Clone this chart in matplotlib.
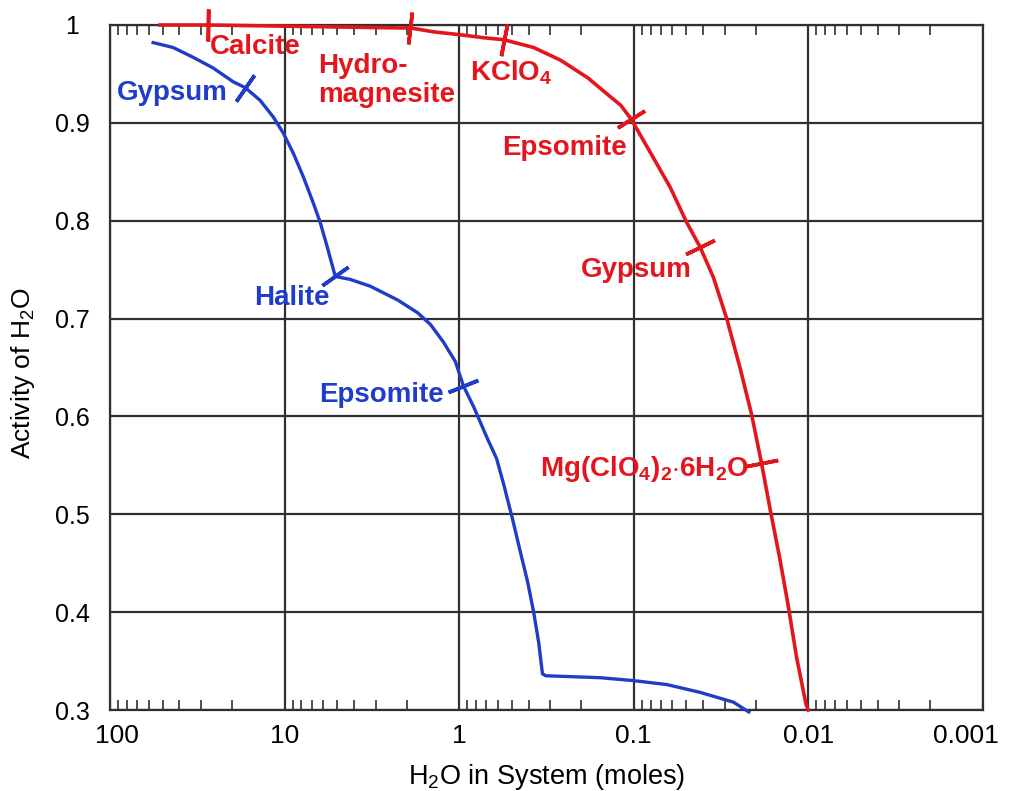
import numpy as np
import matplotlib
matplotlib.use('Agg')
import matplotlib.pyplot as plt
import matplotlib.transforms as mtransforms
from matplotlib.ticker import LogLocator, NullFormatter, FixedLocator

plt.rcParams['font.family'] = ['Liberation Sans', 'DejaVu Sans']
plt.rcParams['mathtext.fontset'] = 'custom'
plt.rcParams['mathtext.rm'] = 'Liberation Sans'
plt.rcParams['mathtext.bf'] = 'Liberation Sans:bold'

# blue path (H2O moles, activity)
blue_x = [56.6, 43.5, 33.4, 25.6, 19.7, 16.8, 13.8, 11.6, 10.2, 8.91, 7.81, 6.84, 6.24, 5.69,
          5.12, 4.20, 3.22, 2.25, 1.73, 1.46, 1.23, 1.05, 0.944, 0.826, 0.687, 0.610, 0.556,
          0.494, 0.445, 0.405, 0.374, 0.350, 0.333, 0.319, 0.155, 0.100, 0.0645, 0.0416,
          0.0268, 0.0219]
blue_y = [0.982, 0.977, 0.967, 0.956, 0.942, 0.936, 0.923, 0.906, 0.890, 0.869, 0.845, 0.818,
          0.798, 0.773, 0.743, 0.740, 0.733, 0.719, 0.706, 0.694, 0.676, 0.656, 0.631, 0.610,
          0.577, 0.557, 0.531, 0.495, 0.461, 0.431, 0.400, 0.369, 0.337, 0.335, 0.333, 0.330,
          0.326, 0.318, 0.308, 0.298]

# red path
red_x = [51.7, 27.4, 2.17, 1.90, 1.40, 0.98, 0.724, 0.556, 0.374, 0.262, 0.183, 0.141,
         0.1186, 0.1035, 0.0804, 0.0617, 0.0496, 0.0416, 0.0349, 0.0293, 0.0246, 0.0211,
         0.0185, 0.01656, 0.01452, 0.0130, 0.01166, 0.0103, 0.0100]
red_y = [1.000, 1.000, 0.997, 0.997, 0.993, 0.990, 0.987, 0.985, 0.977, 0.964, 0.946, 0.929,
         0.918, 0.904, 0.870, 0.834, 0.798, 0.773, 0.742, 0.700, 0.650, 0.602,
         0.552, 0.506, 0.454, 0.406, 0.354, 0.306, 0.300]

# mineral saturation points
blue_min = ['Gypsum', 'Halite', 'Epsomite']
blue_min_x = [16.8, 5.12, 0.944]
blue_min_y = [0.936, 0.743, 0.631]

red_min = ['Calcite', 'Hydro-\nmagnesite', r'KClO$_\mathbf{4}$', 'Epsomite', 'Gypsum',
           r'Mg(ClO$_\mathbf{4}$)$_\mathbf{2}$$\cdot$6H$_\mathbf{2}$O']
red_min_x = [27.4, 1.90, 0.556, 0.1035, 0.0416, 0.0185]
red_min_y = [1.000, 0.997, 0.985, 0.904, 0.773, 0.552]

xticks = [100, 10, 1, 0.1, 0.01, 0.001]
xtick_labels = ['100', '10', '1', '0.1', '0.01', '0.001']
yticks = [0.3, 0.4, 0.5, 0.6, 0.7, 0.8, 0.9, 1.0]
ytick_labels = ['0.3', '0.4', '0.5', '0.6', '0.7', '0.8', '0.9', '1']

BLUE = '#1f3dc8'
RED = '#e3161e'

fig = plt.figure(figsize=(10.09, 7.91), dpi=100)
ax = fig.add_axes([0.109, 0.1024, 0.865, 0.866])
ax.set_xscale('log')
ax.set_xlim(100, 0.001)
ax.set_ylim(0.3, 1.0)

ax.xaxis.set_major_locator(FixedLocator(xticks))
ax.set_xticklabels(xtick_labels)
ax.xaxis.set_minor_locator(LogLocator(base=10, subs=np.arange(2, 10)))
ax.xaxis.set_minor_formatter(NullFormatter())
ax.set_yticks(yticks)
ax.set_yticklabels(ytick_labels)

ax.grid(True, which='major', color='#303030', linewidth=1.6)
ax.tick_params(axis='x', which='both', direction='in', top=True, bottom=True,
               color='#303030', labelsize=19, pad=10)
ax.tick_params(axis='x', which='minor', length=7, width=1.2)
ax.tick_params(axis='x', which='major', length=0)
ax.tick_params(axis='y', length=0, labelsize=18, pad=27)
for lab in ax.get_yticklabels():
    lab.set_horizontalalignment('center')
for s in ax.spines.values():
    s.set_color('#303030')
    s.set_linewidth(1.6)

# nudge edge tick labels inward like the original
labs = ax.get_xticklabels()
labs[0].set_transform(labs[0].get_transform() + mtransforms.ScaledTranslation(0.07, 0, fig.dpi_scale_trans))
labs[-1].set_transform(labs[-1].get_transform() + mtransforms.ScaledTranslation(-0.17, 0, fig.dpi_scale_trans))

ax.set_xlabel(r'H$_2$O in System (moles)', fontsize=19.5, labelpad=10)
ax.set_ylabel(r'Activity of H$_2$O', fontsize=19)
ax.yaxis.set_label_coords(-0.084, 0.492)

ax.plot(blue_x, blue_y, color=BLUE, lw=2.4, clip_on=False, zorder=3)
ax.plot(red_x, red_y, color=RED, lw=2.6, clip_on=False, zorder=3)


def tick_angle(xs, ys, xm, ym):
    pts = ax.transData.transform(np.column_stack([xs, ys]))
    pm = ax.transData.transform((xm, ym))
    i = int(np.argmin(np.hypot(*(pts - pm).T)))
    a, b = max(i - 1, 0), min(i + 1, len(xs) - 1)
    d = pts[b] - pts[a]
    return np.degrees(np.arctan2(d[1], d[0]))


for xs, ys, mx, my, c in [(blue_x, blue_y, blue_min_x, blue_min_y, BLUE),
                           (red_x, red_y, red_min_x, red_min_y, RED)]:
    for xm, ym in zip(mx, my):
        ang = tick_angle(xs, ys, xm, ym)
        ax.plot([xm], [ym], linestyle='none', marker=(2, 2, ang), markersize=23,
                markeredgewidth=2.6, color=c, clip_on=False, zorder=4)

# label positions (data coords)
blue_lab_pos = [(44, 0.931), (9.1, 0.721), (2.8, 0.622)]
red_lab_pos = [(14.7, 0.978), (6.4, 0.943), (0.50, 0.951), (0.248, 0.874), (0.096, 0.750), (0.087, 0.546)]

for name, (lx, ly) in zip(blue_min, blue_lab_pos):
    ax.text(lx, ly, name, color=BLUE, fontsize=20, fontweight='bold', ha='center', va='center')
for name, (lx, ly) in zip(red_min, red_lab_pos):
    ha = 'left' if name.startswith('Hydro') else 'center'
    ax.text(lx, ly, name, color=RED, fontsize=20, fontweight='bold', ha=ha, va='center',
            linespacing=1.15)

fig.savefig('out.png', dpi=100)
